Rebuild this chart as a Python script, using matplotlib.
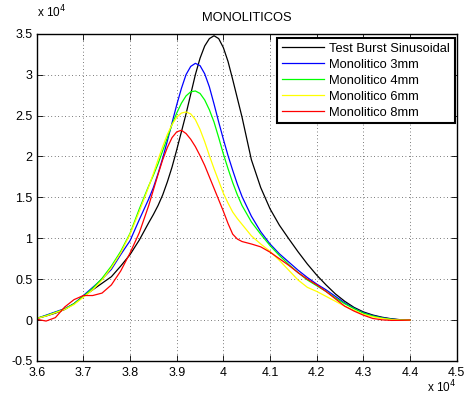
import numpy as np
import matplotlib
matplotlib.use("Agg")
import matplotlib.pyplot as plt
from matplotlib.ticker import FuncFormatter

plt.rcParams['font.family'] = ['Liberation Sans', 'DejaVu Sans']

# frequency axis (Hz), finer sampling around the peaks
freq = np.concatenate([np.arange(36000, 38401, 200),
                       np.arange(38500, 40401, 100),
                       np.arange(40600, 44001, 200)])

test_burst = [200, 500, 850, 1300, 2000, 2900, 3700, 4500, 5300, 6600, 8000, 9800, 11900,
              12900, 14000, 15300, 16900, 18700, 20800, 23000, 25200, 27600, 30000,
              32000, 33500, 34400, 34750, 34400, 33300, 31600, 29400, 27100, 24800,
              19600, 16200, 13600, 11600, 9950, 8350, 6850, 5500, 4300, 3200, 2300,
              1550, 1000, 620, 350, 160, 40, 0]
mono_3mm = [200, 600, 1000, 1400, 2000, 3000, 4000, 5000, 6200, 8000, 9700, 12300, 14800,
            16200, 17900, 19800, 21900, 24100, 26300, 28300, 30000, 31000, 31380,
            31100, 30100, 28500, 26400, 24200, 22100, 20100, 18300, 16600, 15100,
            12700, 10800, 9300, 8100, 7100, 6100, 5200, 4400, 3700, 2900, 2100,
            1450, 900, 550, 300, 120, 20, 0]
mono_4mm = [200, 550, 950, 1350, 2000, 2900, 3900, 5100, 6600, 8400, 10600, 13600, 16400,
            17700, 19100, 20700, 22300, 23900, 25300, 26500, 27400, 27900, 28000,
            27700, 26900, 25700, 24200, 22300, 20300, 18500, 16800, 15300, 14000,
            12000, 10500, 9100, 7900, 6800, 5800, 4900, 4200, 3500, 2700, 2000,
            1400, 850, 500, 250, 100, 10, 0]
mono_6mm = [200, 500, 900, 1300, 1900, 2800, 3700, 4900, 6400, 8200, 10500, 13300, 16300,
            17900, 19600, 21200, 22700, 23900, 24800, 25300, 25440, 25200, 24500,
            23300, 21800, 20100, 18500, 17000, 15500, 14300, 13200, 12400, 11700,
            10300, 9300, 8400, 7300, 6100, 4900, 4000, 3500, 2900, 2300, 1700,
            1200, 700, 400, 200, 60, 0, 0]
mono_8mm = [100, -120, 300, 1600, 2500, 3000, 3000, 3300, 4300, 6000, 8200, 10700, 14000,
            15900, 17800, 19600, 21100, 22300, 23000, 23200, 22800, 22100, 21200,
            20100, 18900, 17500, 16100, 14700, 13300, 11800, 10500, 9900, 9600,
            9300, 8950, 8300, 7500, 6700, 5800, 5000, 4300, 3500, 2600, 1700,
            1100, 600, 200, 30, -40, -30, 0]

series = [test_burst, mono_3mm, mono_4mm, mono_6mm, mono_8mm]
labels = ['Test Burst Sinusoidal', 'Monolitico 3mm', 'Monolitico 4mm',
          'Monolitico 6mm', 'Monolitico 8mm']
colors = ['#000000', '#0000ff', '#00ff00', '#ffff00', '#ff0000']

fig = plt.figure(figsize=(4.66, 3.98), dpi=100)
ax = fig.add_axes([0.0788, 0.093, 0.9012, 0.8223])

for y, lab, c in zip(series, labels, colors):
    ax.plot(freq, y, color=c, lw=0.9, label=lab)

ax.set_xlim(36000, 45000)
ax.set_ylim(-5000, 35000)
ax.set_xticks(np.arange(36000, 45001, 1000))
ax.set_yticks(np.arange(-5000, 35001, 5000))
fmt = FuncFormatter(lambda v, p: '%g' % round(v / 1e4, 2))
ax.xaxis.set_major_formatter(fmt)
ax.yaxis.set_major_formatter(fmt)
ax.tick_params(direction='in', top=True, right=True, length=4, width=0.6,
               labelsize=9)
ax.tick_params(axis='x', pad=4)
ax.tick_params(axis='y', pad=3)
ax.grid(True, color='k', linestyle=(0, (1, 4)), lw=0.5)
for s in ax.spines.values():
    s.set_linewidth(1.0)

ax.set_title('MONOLITICOS', fontsize=9.3, pad=9)
fig.text(0.08, 0.948, r'x 10$^{4}$', fontsize=8.5, ha='left', va='bottom')
fig.text(0.978, 0.008, r'x 10$^{4}$', fontsize=8.5, ha='right', va='bottom')

leg = ax.legend(loc='upper right', bbox_to_anchor=(0.995, 0.986), borderaxespad=0,
                fontsize=9.3, handlelength=3.3, handletextpad=0.4, labelspacing=0.3,
                borderpad=0.35, fancybox=False, framealpha=1, edgecolor='k')
leg.get_frame().set_linewidth(1.5)

fig.savefig('out.png', dpi=100)
